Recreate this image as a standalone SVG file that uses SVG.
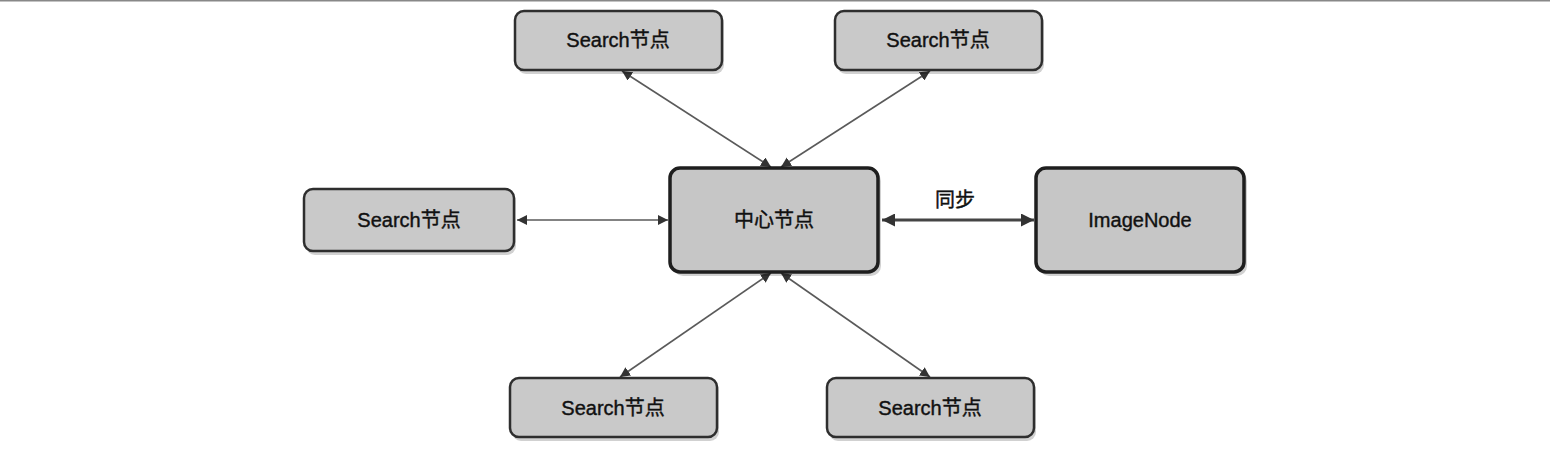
<svg xmlns="http://www.w3.org/2000/svg" width="1550" height="461" viewBox="0 0 1550 461">
<style>
.node{fill:#c9c9c9;stroke:#2e2e2e;stroke-width:2.5}
.big{fill:#c6c6c6;stroke:#1e1e1e;stroke-width:3.5}
.shadow{fill:#000;opacity:0.18}
.lbl{font-family:"Liberation Sans","Noto Sans CJK SC",sans-serif;font-size:20px;fill:#111;text-anchor:middle;dominant-baseline:central;stroke:#111;stroke-width:0.4}
.edge{stroke:#5a5a5a;stroke-width:1.6;fill:none;marker-start:url(#a);marker-end:url(#a)}
.thick{stroke:#444;stroke-width:3.2;fill:none;marker-start:url(#b);marker-end:url(#b)}
</style>
<defs>
<marker id="a" viewBox="0 0 10 10" refX="10" refY="5" markerWidth="10" markerHeight="10" orient="auto-start-reverse" markerUnits="userSpaceOnUse"><path d="M0,0 L10,5 L0,10 z" fill="#333"/></marker>
<marker id="b" viewBox="0 0 10 10" refX="10" refY="5" markerWidth="13" markerHeight="13" orient="auto-start-reverse" markerUnits="userSpaceOnUse"><path d="M0,0 L10,5 L0,10 z" fill="#333"/></marker>
</defs>
<rect x="0" y="0" width="1550" height="461" fill="#fff"/>
<rect x="0" y="0" width="1550" height="1.5" fill="#888"/>
<g id="connectors">
<line class="edge" x1="622" y1="71" x2="771" y2="167"/>
<line class="edge" x1="930" y1="71" x2="781" y2="167"/>
<line class="edge" x1="517" y1="220" x2="668" y2="220"/>
<line class="edge" x1="771" y1="273" x2="620" y2="377"/>
<line class="edge" x1="781" y1="273" x2="930" y2="377"/>
<line class="thick" x1="882" y1="220" x2="1034" y2="220"/>
<text class="lbl" x="955" y="200">同步</text>
</g>
<g id="n_top_left">
<rect class="shadow" x="517" y="14" width="207" height="60" rx="9"/>
<rect class="node" x="515" y="11" width="207" height="59" rx="9"/>
<text class="lbl" x="618" y="40">Search节点</text>
</g>
<g id="n_top_right">
<rect class="shadow" x="837" y="14" width="207" height="60" rx="9"/>
<rect class="node" x="835" y="11" width="207" height="59" rx="9"/>
<text class="lbl" x="938" y="40">Search节点</text>
</g>
<g id="n_left">
<rect class="shadow" x="306" y="192" width="210" height="63" rx="9"/>
<rect class="node" x="304" y="189" width="210" height="62" rx="9"/>
<text class="lbl" x="409" y="220">Search节点</text>
</g>
<g id="n_center">
<rect class="shadow" x="673" y="171" width="208" height="105" rx="10"/>
<rect class="big" x="670" y="168" width="208" height="104" rx="10"/>
<text class="lbl" x="774" y="220">中心节点</text>
</g>
<g id="n_imagenode">
<rect class="shadow" x="1039" y="171" width="208" height="105" rx="10"/>
<rect class="big" x="1036" y="168" width="208" height="104" rx="10"/>
<text class="lbl" x="1140" y="220">ImageNode</text>
</g>
<g id="n_bottom_left">
<rect class="shadow" x="512" y="381" width="207" height="60" rx="9"/>
<rect class="node" x="510" y="378" width="207" height="59" rx="9"/>
<text class="lbl" x="613" y="408">Search节点</text>
</g>
<g id="n_bottom_right">
<rect class="shadow" x="829" y="381" width="207" height="60" rx="9"/>
<rect class="node" x="827" y="378" width="207" height="59" rx="9"/>
<text class="lbl" x="930" y="408">Search节点</text>
</g>
</svg>
